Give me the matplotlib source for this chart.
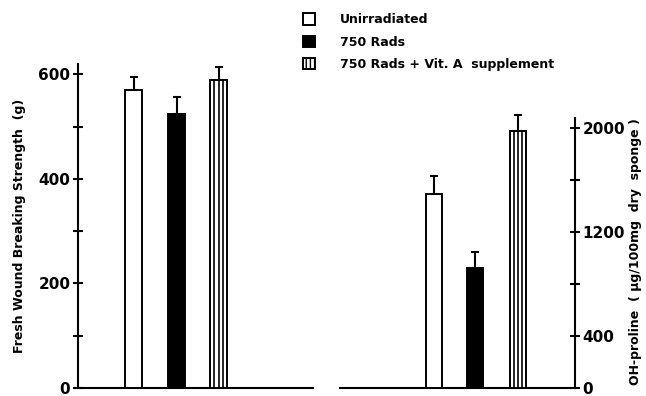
import numpy as np
import matplotlib
matplotlib.use('Agg')
import matplotlib.pyplot as plt
from matplotlib.patches import Patch

## Values
groups = ['Unirradiated', '750 Rads', '750 Rads + Vit. A  supplement']
strength = [571, 524, 589]          # fresh wound breaking strength (g)
strength_err = [25, 32, 26]
ohproline = [1492, 923, 1977]       # ug / 100mg dry sponge
ohproline_err = [139, 123, 123]

left_ticks = [0, 200, 400, 600]
left_minor = [100, 300, 500]
right_ticks = [0, 400, 1200, 2000]
right_minor = [800, 1600]

W, H = 646, 396
plt.rcParams['font.family'] = 'DejaVu Sans'
plt.rcParams['font.weight'] = 'bold'
plt.rcParams['axes.labelweight'] = 'bold'

fig = plt.figure(figsize=(W / 100, H / 100), dpi=100)

def px_axes(x0, x1, ytop, ybot):
    ## build axes from pixel box (origin top-left)
    return fig.add_axes([x0 / W, 1 - ybot / H, (x1 - x0) / W, (ybot - ytop) / H])

styles = [dict(color='white', edgecolor='black'),
          dict(color='black', edgecolor='black'),
          dict(color='white', edgecolor='black')]

def draw_bars(ax, centers, width, vals, errs):
    for i, (c, v) in enumerate(zip(centers, vals)):
        ax.bar(c, v, width, linewidth=1.4, zorder=3, **styles[i])
        if i == 2:
            ## vertical stripes for the Vit. A bar
            for off in (-width / 4, 0, width / 4):
                ax.plot([c + off, c + off], [0, v], color='black', lw=1.2, zorder=4)
    eb = ax.errorbar(centers, vals, yerr=[[0] * len(errs), errs], fmt='none',
                     ecolor='black', elinewidth=1.5, capsize=3, capthick=1.5, zorder=2)
    for art in eb.get_children():
        art.set_clip_on(False)

## left panel
axl = px_axes(78, 313, 64, 388)
axl.set_xlim(0, 235)
axl.set_ylim(0, 620)
draw_bars(axl, [55.5, 98.5, 140.5], 17, strength, strength_err)
for s in ['top', 'right']:
    axl.spines[s].set_visible(False)
axl.spines['left'].set_linewidth(1.5)
axl.spines['bottom'].set_linewidth(1.5)
axl.set_xticks([])
axl.set_yticks(left_ticks)
axl.set_yticks(left_minor, minor=True)
axl.tick_params(axis='y', which='both', direction='inout', length=7, width=1.5,
                labelsize=11, pad=2)
axl.set_ylabel('Fresh Wound Breaking Strength  (g)', fontsize=9, labelpad=9)

## right panel
axr = px_axes(340, 575, 118, 388)
axr.set_xlim(0, 235)
axr.set_ylim(0, 2080)
draw_bars(axr, [93.5, 135, 177.5], 16, ohproline, ohproline_err)
for s in ['top', 'left']:
    axr.spines[s].set_visible(False)
axr.spines['right'].set_linewidth(1.5)
axr.spines['bottom'].set_linewidth(1.5)
axr.set_xticks([])
axr.yaxis.tick_right()
axr.set_yticks(right_ticks)
axr.set_yticks(right_minor, minor=True)
axr.tick_params(axis='y', which='both', direction='inout', length=7, width=1.5,
                labelsize=11, pad=2)
fig.text(636 / W, 1 - 252 / H, 'OH-proline  ( \u03bcg/100mg  dry  sponge )',
         rotation=90, ha='center', va='center', fontsize=9)

## legend
handles = [Patch(facecolor='white', edgecolor='black', linewidth=1.4),
           Patch(facecolor='black', edgecolor='black', linewidth=1.4),
           Patch(facecolor='white', edgecolor='black', linewidth=1.4, hatch='||||')]
fig.legend(handles, groups, loc='upper left', bbox_to_anchor=(292 / W, 1 - 2 / H),
           frameon=False, fontsize=9, handlelength=0.9, handleheight=1.0,
           handletextpad=2.0, labelspacing=0.75)

fig.savefig('out.png', dpi=100)
